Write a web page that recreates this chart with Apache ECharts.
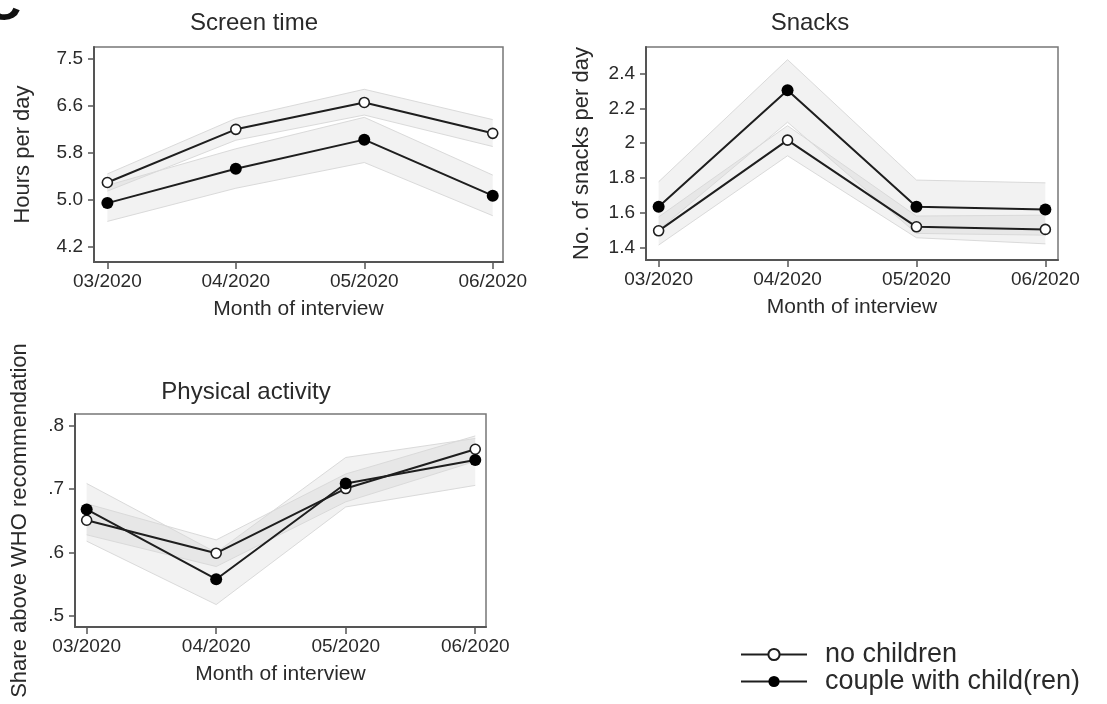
<!DOCTYPE html>
<html><head><meta charset="utf-8">
<script src="https://cdn.jsdelivr.net/npm/echarts@6/dist/echarts.min.js"></script>
<style>html,body{margin:0;padding:0;background:#fff}#c{width:1107px;height:704px}</style>
</head><body><div id="c"></div>
<script>
// ---- data ----
const months = ['03/2020', '04/2020', '05/2020', '06/2020'];

// Screen time (hours per day)
const screenNone    = [5.33, 6.26, 6.73, 6.19];
const screenNoneLo  = [5.18, 6.07, 6.51, 5.96];
const screenNoneHi  = [5.48, 6.45, 6.96, 6.43];
const screenChild   = [4.97, 5.57, 6.08, 5.10];
const screenChildLo = [4.65, 5.23, 5.68, 4.75];
const screenChildHi = [5.28, 5.92, 6.47, 5.46];
const screenTickVals   = [4.2, 5.025, 5.85, 6.675, 7.5];
const screenTickLabels = ['4.2', '5.0', '5.8', '6.6', '7.5'];

// Snacks (no. per day)
const snackNone    = [1.495, 2.017, 1.518, 1.503];
const snackNoneLo  = [1.413, 1.927, 1.455, 1.420];
const snackNoneHi  = [1.575, 2.100, 1.580, 1.585];
const snackChild   = [1.633, 2.304, 1.633, 1.618];
const snackChildLo = [1.500, 2.120, 1.480, 1.470];
const snackChildHi = [1.777, 2.480, 1.787, 1.771];
const snackTickVals   = [1.4, 1.6, 1.8, 2.0, 2.2, 2.4];
const snackTickLabels = ['1.4', '1.6', '1.8', '2', '2.2', '2.4'];

// Physical activity (share above WHO recommendation)
const physNone    = [0.651, 0.599, 0.701, 0.763];
const physNoneLo  = [0.628, 0.578, 0.680, 0.744];
const physNoneHi  = [0.677, 0.620, 0.724, 0.784];
const physChild   = [0.668, 0.558, 0.709, 0.746];
const physChildLo = [0.618, 0.518, 0.672, 0.706];
const physChildHi = [0.709, 0.600, 0.750, 0.780];
const physTickVals   = [0.5, 0.6, 0.7, 0.8];
const physTickLabels = ['.5', '.6', '.7', '.8'];

const seriesNames = ['no children', 'couple with child(ren)'];

// ---- build ----
const FONT = "'Liberation Sans', Arial, Helvetica, sans-serif";
const INK = '#1e1e1e';
const AXC = '#555';
const TXT = '#2a2a2a';

const panels = [
  { title: 'Screen time', yName: 'Hours per day', grid: {left: 94, top: 47, width: 409, height: 215},
    xMin: -0.104, xMax: 3.08, yMin: 3.94, yMax: 7.70, ticks: screenTickVals, labels: screenTickLabels,
    none: screenNone, noneLo: screenNoneLo, noneHi: screenNoneHi,
    child: screenChild, childLo: screenChildLo, childHi: screenChildHi, yGap: 60 },
  { title: 'Snacks', yName: 'No. of snacks per day', grid: {left: 646, top: 47, width: 412, height: 213},
    xMin: -0.098, xMax: 3.098, yMin: 1.327, yMax: 2.553, ticks: snackTickVals, labels: snackTickLabels,
    none: snackNone, noneLo: snackNoneLo, noneHi: snackNoneHi,
    child: snackChild, childLo: snackChildLo, childHi: snackChildHi, yGap: 53 },
  { title: 'Physical activity', yName: 'Share above WHO recommendation', grid: {left: 75, top: 414, width: 411, height: 213},
    xMin: -0.09, xMax: 3.083, yMin: 0.4826, yMax: 0.8186, ticks: physTickVals, labels: physTickLabels,
    none: physNone, noneLo: physNoneLo, noneHi: physNoneHi,
    child: physChild, childLo: physChildLo, childHi: physChildHi, yGap: 44 }
];

const grids = [], xAxes = [], yAxes = [], series = [];
const idx = months.map((m, i) => i);

function pairs(arr) { return arr.map((v, i) => [i, v]); }

function bandRender(params, api) {
  if (params.dataIndexInside !== 0) return null;
  const n = params.dataInsideLength;
  const lower = [], upper = [];
  for (let k = 0; k < n; k++) {
    lower.push(api.coord([api.value(0, k), api.value(1, k)]));
    upper.push(api.coord([api.value(0, k), api.value(2, k)]));
  }
  return {
    type: 'polygon',
    shape: {points: lower.concat(upper.reverse())},
    style: {fill: 'rgba(170,170,170,0.15)', stroke: null}
  };
}

panels.forEach((p, gi) => {
  grids.push(Object.assign({show: true, borderColor: '#777', borderWidth: 1.5, backgroundColor: 'rgba(0,0,0,0)'}, p.grid));
  xAxes.push({
    gridIndex: gi, type: 'value', min: p.xMin, max: p.xMax,
    axisLine: {show: true, onZero: false, lineStyle: {color: AXC, width: 2}},
    axisTick: {show: true, customValues: idx, length: 7, lineStyle: {color: AXC, width: 1.5}},
    axisLabel: {customValues: idx, formatter: v => months[Math.round(v)], color: TXT, fontSize: 19, fontFamily: FONT, margin: 10},
    splitLine: {show: false},
    name: 'Month of interview', nameLocation: 'middle', nameGap: 37,
    nameTextStyle: {fontSize: 21, color: TXT, fontFamily: FONT}
  });
  const ticks = p.ticks, labels = p.labels;
  yAxes.push({
    gridIndex: gi, type: 'value', min: p.yMin, max: p.yMax,
    axisLine: {show: true, onZero: false, lineStyle: {color: AXC, width: 2}},
    axisTick: {show: true, customValues: ticks, length: 6, lineStyle: {color: AXC, width: 1.5}},
    axisLabel: {customValues: ticks, color: TXT, fontSize: 19, fontFamily: FONT, margin: 11,
      formatter: v => { let b = 0; ticks.forEach((t, k) => { if (Math.abs(t - v) < Math.abs(ticks[b] - v)) b = k; }); return labels[b]; }},
    splitLine: {show: false},
    name: p.yName, nameLocation: 'middle', nameGap: p.yGap, nameRotate: 90,
    nameTextStyle: {fontSize: 22, color: TXT, fontFamily: FONT}
  });

  [[p.noneLo, p.noneHi], [p.childLo, p.childHi]].forEach(([lo, hi]) => {
    series.push({
      type: 'custom', xAxisIndex: gi, yAxisIndex: gi, silent: true, z: 1,
      data: lo.map((v, i) => [i, v, hi[i]]),
      encode: {x: 0, y: [1, 2]},
      renderItem: bandRender
    });
    [lo, hi].forEach(arr => series.push({
      type: 'line', xAxisIndex: gi, yAxisIndex: gi, silent: true, symbol: 'none', z: 2,
      data: pairs(arr), lineStyle: {color: '#dadada', width: 1}
    }));
  });

  series.push({
    name: seriesNames[0], type: 'line', xAxisIndex: gi, yAxisIndex: gi, z: 5,
    data: pairs(p.none), symbol: 'circle', symbolSize: 10,
    lineStyle: {color: INK, width: 2},
    itemStyle: {color: '#fff', borderColor: INK, borderWidth: 1.6}
  });
  series.push({
    name: seriesNames[1], type: 'line', xAxisIndex: gi, yAxisIndex: gi, z: 6,
    data: pairs(p.child), symbol: 'circle', symbolSize: 12,
    lineStyle: {color: INK, width: 2},
    itemStyle: {color: '#000', borderColor: '#000', borderWidth: 0}
  });
});

const legendBase = {
  orient: 'vertical', left: 735, itemWidth: 66, itemHeight: 14,
  selectedMode: false, textStyle: {fontSize: 27, color: TXT, fontFamily: FONT, padding: [0, 0, 0, 13]}
};

const chart = echarts.init(document.getElementById('c'));
chart.setOption({
  backgroundColor: '#fff',
  animation: false,
  textStyle: {fontFamily: FONT},
  grid: grids, xAxis: xAxes, yAxis: yAxes, series: series,
  legend: [
    Object.assign({top: 636, data: [seriesNames[0]]}, legendBase),
    Object.assign({top: 663, data: [seriesNames[1]]}, legendBase)
  ],
  graphic: [
    {type: 'text', x: 254, y: 23, style: {text: 'Screen time', fontSize: 24, fontFamily: FONT, fill: TXT, align: 'center', verticalAlign: 'middle'}},
    {type: 'text', x: 810, y: 23, style: {text: 'Snacks', fontSize: 24, fontFamily: FONT, fill: TXT, align: 'center', verticalAlign: 'middle'}},
    {type: 'text', x: 246, y: 392, style: {text: 'Physical activity', fontSize: 24, fontFamily: FONT, fill: TXT, align: 'center', verticalAlign: 'middle'}},
    {type: 'text', x: -15, y: 31, style: {text: 'C', fontSize: 50, fontWeight: 'bold', fontFamily: FONT, fill: '#111', align: 'left', verticalAlign: 'bottom'}}
  ]
});
</script>
</body></html>
